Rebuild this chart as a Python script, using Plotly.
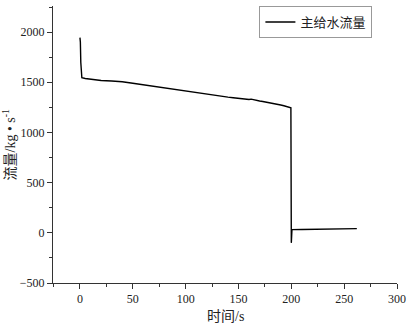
import plotly.graph_objects as go

time_s = [0, 0.4, 0.8, 1.2, 1.8, 5, 10, 20, 30, 40, 50, 60, 70, 80, 90, 100, 110, 120,
          125, 130, 135, 140, 145, 150, 153, 156, 160, 162, 165, 168, 170, 173, 176, 180,
          183, 186, 190, 193, 196, 199.6, 200.0, 200.6, 210, 220, 230, 240, 250, 262]
flow = [1945, 1900, 1700, 1560, 1545, 1538, 1530, 1518, 1512, 1505, 1490, 1474, 1458, 1442,
        1426, 1410, 1396, 1382, 1374, 1368, 1360, 1352, 1346, 1340, 1335, 1337, 1328, 1332,
        1322, 1318, 1313, 1308, 1303, 1297, 1291, 1283, 1273, 1266, 1257, 1245, -100,
        32, 33, 35, 36, 38, 40, 42]

xticks = [0, 50, 100, 150, 200, 250, 300]
yticks = [-500, 0, 500, 1000, 1500, 2000]

font_fam = "Liberation Serif, Noto Sans CJK SC, serif"

fig = go.Figure()
fig.add_trace(go.Scatter(x=time_s, y=flow, mode="lines", name="主给水流量",
                         line=dict(color="black", width=1.4)))

fig.update_layout(
    width=411, height=327,
    margin=dict(l=53, r=14, t=6, b=44, autoexpand=False),
    plot_bgcolor="white", paper_bgcolor="white",
    font=dict(family=font_fam, size=12, color="#222"),
    showlegend=True,
    legend=dict(x=0.6, y=1.0, xanchor="left", yanchor="top",
                bordercolor="#999", borderwidth=1, bgcolor="white",
                font=dict(size=13, family=font_fam),
                itemwidth=30, tracegroupgap=0),
    annotations=[
        dict(text="时间/s", xref="paper", yref="paper", x=0.5, y=-0.12,
             xanchor="center", yanchor="middle", showarrow=False,
             font=dict(size=14, family=font_fam)),
        dict(text="流量/kg • s<sup>-1</sup>", xref="paper", yref="paper", x=-0.128, y=0.5,
             xanchor="center", yanchor="middle", showarrow=False, textangle=-90,
             font=dict(size=14, family=font_fam)),
    ],
)
fig.update_xaxes(range=[-25.5, 300], tickvals=xticks, ticks="outside", ticklen=5,
                 tickcolor="#333", showline=True, linecolor="#333", linewidth=1,
                 showgrid=False, zeroline=False, automargin=False,
                 minor=dict(dtick=25, tick0=0, ticks="outside", ticklen=3, tickcolor="#333"),
                 tickfont=dict(size=12))
fig.update_yaxes(range=[-500, 2260], tickvals=yticks, ticks="outside", ticklen=5,
                 tickcolor="#333", showline=True, linecolor="#333", linewidth=1,
                 showgrid=False, zeroline=False, automargin=False,
                 minor=dict(dtick=250, tick0=0, ticks="outside", ticklen=3, tickcolor="#333"),
                 tickfont=dict(size=12))

fig.write_html("out.html", config={"displayModeBar": False},
               post_script="document.body.style.margin='0px';")
